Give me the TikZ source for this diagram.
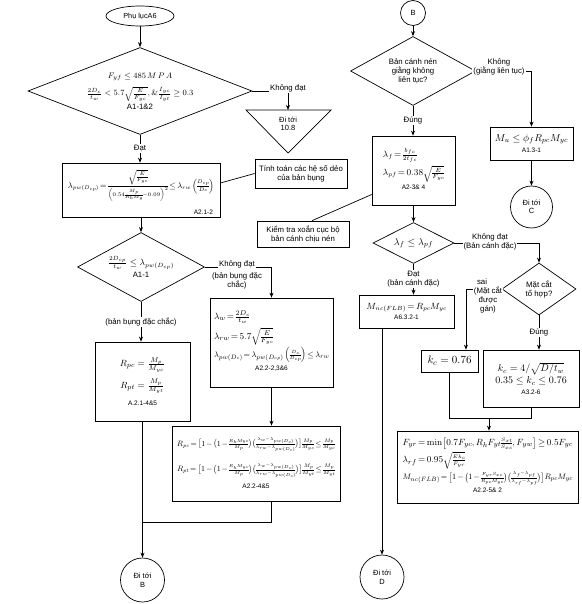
\documentclass[tikz,border=0pt]{standalone}
\usepackage{amsmath,amssymb}
\usepackage[no-math]{fontspec}
\newfontfamily\lblfont{Liberation Sans}
\newcommand\clausefont{\lblfont\fontsize{6.5}{7.5}\selectfont}
\newcommand\sss{\scriptscriptstyle}
\newcommand\tightmath{\thickmuskip=3mu \medmuskip=2mu \nulldelimiterspace=0pt \scriptspace=0pt}
\usepackage{tikz}
\usetikzlibrary{shapes.geometric, arrows.meta, positioning, calc}
\tikzset{
  % Flowchart styles
  startstop/.style={ellipse, draw=black, inner sep=0pt, minimum width=68pt, minimum height=20pt, font=\lblfont\fontsize{7.3}{8.5}\selectfont},
  decision/.style={diamond, draw=black, inner sep=0pt, align=center, font=\lblfont\fontsize{7.8}{9}\selectfont},
  formbox/.style={rectangle, draw=black, inner sep=0pt, align=center, font=\fontsize{9}{11}\selectfont\tightmath},
  notebox/.style={rectangle, draw=black, inner sep=0pt, align=center, font=\lblfont\fontsize{7.8}{9}\selectfont},
  goto/.style={circle, draw=black, inner sep=0pt, align=center, font=\lblfont\fontsize{7.5}{8.5}\selectfont},
  cond/.style={inner sep=1pt, fill=white, align=center, font=\lblfont\fontsize{7.8}{9}\selectfont},
  clause/.style={inner sep=1pt, font=\clausefont},
  arrow/.style={-{Stealth[length=5pt, width=4pt]}},
}

\begin{document}
\begin{tikzpicture}[x=1pt, y=-1pt, line width=0.7pt]
    \useasboundingbox (0,0) rectangle (581,604);

    % Left column
    \node[startstop] (start) at (140,16) {Phụ lụcA6};
    \node[decision, aspect=2.57, minimum width=224pt, minimum height=87pt] (lim) at (140,91) {%
      {\fontsize{8}{10}\selectfont $F_{yf} \le 485\,M\,P\,A$}\\[5pt]
      {\fontsize{8}{12}\selectfont $\frac{2D_c}{t_w} < 5.7\sqrt{\frac{E}{F_{yc}}},\& \frac{I_{yc}}{I_{yt}} \ge 0.3$}\\[1pt]
      A1-1\&2};
    \node[cond] (limNo) at (288,88) {Không đạt};
    \coordinate (triTop) at (288,110);
    \node[goto, draw=none] (goto108) at (288,124) {Đi tới\\10.8};

    \node[formbox, minimum width=158pt, minimum height=54pt] (pwlim) at (141,190) {%
      \resizebox{146pt}{!}{$\lambda_{pw(D_{cp})} = \dfrac{\sqrt{\frac{E}{F_{yc}}}}{\scriptstyle\left(0.54\frac{M_p}{R_h M_y}-0.09\right)^2} \le \lambda_{rw}\left(\frac{D_{cp}}{D_c}\right)$}\\[8pt]};
    \node[clause, anchor=south east] (pwlimRef) at ([xshift=-6pt, yshift=2pt]pwlim.south east) {A2.1-2};

    \node[notebox, minimum width=92pt, minimum height=29pt] (webNote) at (301,173.5) {Tính toán các hệ số dẻo\\của bản bụng};
    \node[notebox, minimum width=92pt, minimum height=26pt] (flgNote) at (303,234) {Kiểm tra xoắn cục bộ\\bản cánh chịu nén};

    \node[decision, aspect=1.84, minimum width=127pt, minimum height=69pt] (cpt) at (141,267) {%
      {\fontsize{9}{11}\selectfont $\frac{2D_{cp}}{t_w} \le \lambda_{pw(D_{cp})}$}\\[1pt] A1-1};

    \node[formbox, minimum width=95pt, minimum height=79pt, font=\fontsize{9.5}{11}\selectfont] (cptbox) at (142.5,381.5) {%
      $R_{pc} = \frac{M_p}{M_{yc}}$\\[6pt]
      $R_{pt} = \frac{M_p}{M_{yt}}$\\[6pt]
      {\clausefont A.2.1-4\&5}};

    \node[formbox, minimum width=123pt, minimum height=89pt, font=\fontsize{9.5}{11}\selectfont\tightmath] (noncpt) at (271.5,342.5) {%
      \begin{tabular}{@{}l@{}}
        $\lambda_w = \frac{2D_c}{t_w}$\\[5pt]
        $\lambda_{rw} = 5.7\sqrt{\frac{E}{F_{yc}}}$\\[5pt]
        \resizebox{115pt}{!}{$\lambda_{pw(D_c)} = \lambda_{pw(D_{cp})}\left(\frac{\sss D_c}{\sss D_{cp}}\right) \le \lambda_{rw}$}\\[2pt]
        \multicolumn{1}{c}{\clausefont A2.2-2,3\&6}
      \end{tabular}};

    \node[formbox, minimum width=168pt, minimum height=75pt] (webfac) at (256,463.5) {%
      \resizebox{158pt}{!}{$R_{pc} = \bigl[1-\bigl(1-\frac{\sss R_h M_{yc}}{\sss M_p}\bigr)\bigl(\frac{\sss \lambda_w-\lambda_{pw(D_c)}}{\sss \lambda_{rw}-\lambda_{pw(D_c)}}\bigr)\bigr]\frac{M_p}{M_{yc}} \le \frac{M_p}{M_{yc}}$}\\[11pt]
      \resizebox{158pt}{!}{$R_{pt} = \bigl[1-\bigl(1-\frac{\sss R_h M_{yc}}{\sss M_p}\bigr)\bigl(\frac{\sss \lambda_w-\lambda_{pw(D_c)}}{\sss \lambda_{rw}-\lambda_{pw(D_c)}}\bigr)\bigr]\frac{M_p}{M_{yt}} \le \frac{M_p}{M_{yt}}$}\\[6pt]
      {\clausefont A2.2-4\&5}};

    \coordinate (mergeB) at (142.5,522);
    \node[goto, minimum size=44pt] (gotoB) at (142.5,580) {Đi tới\\B};

    % Right column
    \node[goto, minimum size=25pt] (conB) at (413,13) {B};
    \node[decision, aspect=1.81, minimum width=125pt, minimum height=69pt] (brace) at (413,71) {Bản cánh nén\\giằng không\\liên tục?};
    \node[formbox, minimum width=83pt, minimum height=33pt, font=\fontsize{10}{12}\selectfont] (mu) at (531.5,143.5) {%
      $M_u \le \phi_f R_{pc} M_{yc}$\\[-1pt] {\clausefont A1.3-1}};
    \node[goto, minimum size=42pt] (gotoC) at (531.5,207) {Đi tới\\C};

    \node[formbox, minimum width=83pt, minimum height=69pt] (flgsl) at (413.5,170.5) {%
      \begin{tabular}{@{}l@{}}
        $\lambda_f = \frac{b_{fc}}{2t_{fc}}$\\[5pt]
        $\lambda_{pf} = 0.38\sqrt{\frac{E}{F_{yc}}}$\\[1pt]
        \multicolumn{1}{c}{\clausefont A2-3\& 4}
      \end{tabular}};
    \node[decision, aspect=1.98, minimum width=81pt, minimum height=41pt, font=\fontsize{10}{11}\selectfont] (flgchk) at (413.5,243) {$\lambda_f \le \lambda_{pf}$};

    \node[formbox, minimum width=95pt, minimum height=33pt] (mncc) at (406.5,311.5) {%
      $M_{nc(FLB)} = R_{pc}M_{yc}$\\[-1pt] {\clausefont A6.3.2-1}};
    \node[goto, minimum size=44pt] (gotoD) at (382,577) {Đi tới\\D};

    \node[decision, aspect=1.42, minimum width=74pt, minimum height=52pt] (built) at (539,289) {Mặt cắt\\tổ hợp?};
    \node[cond, fill=none] (builtNo) at (482,282) {sai};

    \node[formbox, minimum width=57pt, minimum height=22pt, font=\fontsize{11}{12}\selectfont] (kcr) at (449.5,361) {$k_c = 0.76$};
    \node[formbox, minimum width=96pt, minimum height=57pt, font=\fontsize{10}{12}\selectfont] (kcb) at (531,378.5) {%
      $k_c = 4/\sqrt{D/t_w}$\\
      $0.35 \le k_c \le 0.76$\\[-1pt]
      {\clausefont A3.2-6}};

    \coordinate (joinA) at (489,418);
    \node[formbox, minimum width=181pt, minimum height=72pt, font=\fontsize{9.5}{11}\selectfont\tightmath] (mnc) at (487.5,467) {%
      \begin{tabular}{@{}l@{}}
        \resizebox{170pt}{!}{$F_{yr} = \min\bigl[0.7F_{yc}, R_hF_{yt}\frac{\sss S_{xt}}{\sss S_{xc}}, F_{yw}\bigr] \ge 0.5F_{yc}$}\\[3pt]
        $\lambda_{rf} = 0.95\sqrt{\frac{\sss Ek_c}{\sss F_{yr}}}$\\[6pt]
        \resizebox{170pt}{!}{$M_{nc(FLB)} = \bigl[1-\bigl(1-\frac{\sss F_{yr}S_{xc}}{\sss R_{pc}M_{yc}}\bigr)\bigl(\frac{\sss \lambda_f-\lambda_{pf}}{\sss \lambda_{rf}-\lambda_{pf}}\bigr)\bigr]R_{pc}M_{yc}$}\\[2pt]
        \multicolumn{1}{c}{\clausefont A2.2-5\& 2}
      \end{tabular}};

    % Triangle
    \draw (triTop) +(-42,0) -- +(43,0) -- +(0,43) -- cycle;

    % Arrows
    \draw[arrow] (start) -- (lim);
    \draw (lim.east) -- (lim.east -| limNo.west);
    \draw[arrow] (limNo.south) -- (triTop);
    \draw[arrow] (lim.south) -- node[cond] (limYes) {Đạt} (lim.south |- pwlim.north);
    \draw ([yshift=7pt]pwlim.east) -- (webNote.west);
    \draw[arrow] (pwlim) -- (cpt);
    \draw[arrow] (cpt.east) -| (noncpt.north);
    \draw[arrow] (cpt.south) -- node[cond] (cptYes) {(bản bụng đặc chắc)} (cpt.south |- cptbox.north);
    \draw[arrow] (noncpt.south) -- (noncpt.south |- webfac.north);
    \draw (noncpt.south |- webfac.south) |- (mergeB);
    \draw[arrow] (cptbox) -- (gotoB);

    \draw[arrow] (conB) -- (brace);
    \draw[arrow] (brace.east) -| (mu.north);
    \draw[arrow] (mu) -- (gotoC);
    \draw[arrow] (brace.south) -- node[cond] (braceYes) {Đúng} (brace.south |- flgsl.north);
    \draw ([xshift=9pt]flgNote.north) -- ([yshift=-24pt]flgsl.west);
    \draw[arrow] (flgsl) -- (flgchk);
    \draw[arrow] (flgchk.east) -| (built.north);
    \draw[arrow] (flgchk.south) -- node[cond] (flgYes) {Đạt\\(bản cánh đặc)} (flgchk.south |- mncc.north);
    \draw[arrow] (mncc.south -| gotoD.north) -- (gotoD.north);
    \draw[arrow] (built.west) -| ([xshift=16.5pt]kcr.north);
    \draw[arrow] (built.south) -- node[cond] (builtYes) {Đúng} (built.south |- kcb.north);
    \draw (kcr.south) -- (kcr.south |- joinA) -- (kcb.south |- joinA) -- (kcb.south);
    \draw[arrow] (joinA) -- (joinA |- mnc.north);

    % Branch labels over the lines
    \node[cond] (cptNo) at (237,264) {Không đạt};
    \node[cond, fill=none] (cptNoNote) at (237,281) {(bản bụng đặc\\chắc)};
    \node[cond] (braceNo) at (499,67) {Không\\(giằng liên tục)};
    \node[cond] (flgNo) at (490,242) {Không đạt\\(Bản cánh đặc)};
    \node[cond] (builtNoNote) at (488,300) {(Mặt cắt\\được\\gán)};
\end{tikzpicture}
\end{document}
